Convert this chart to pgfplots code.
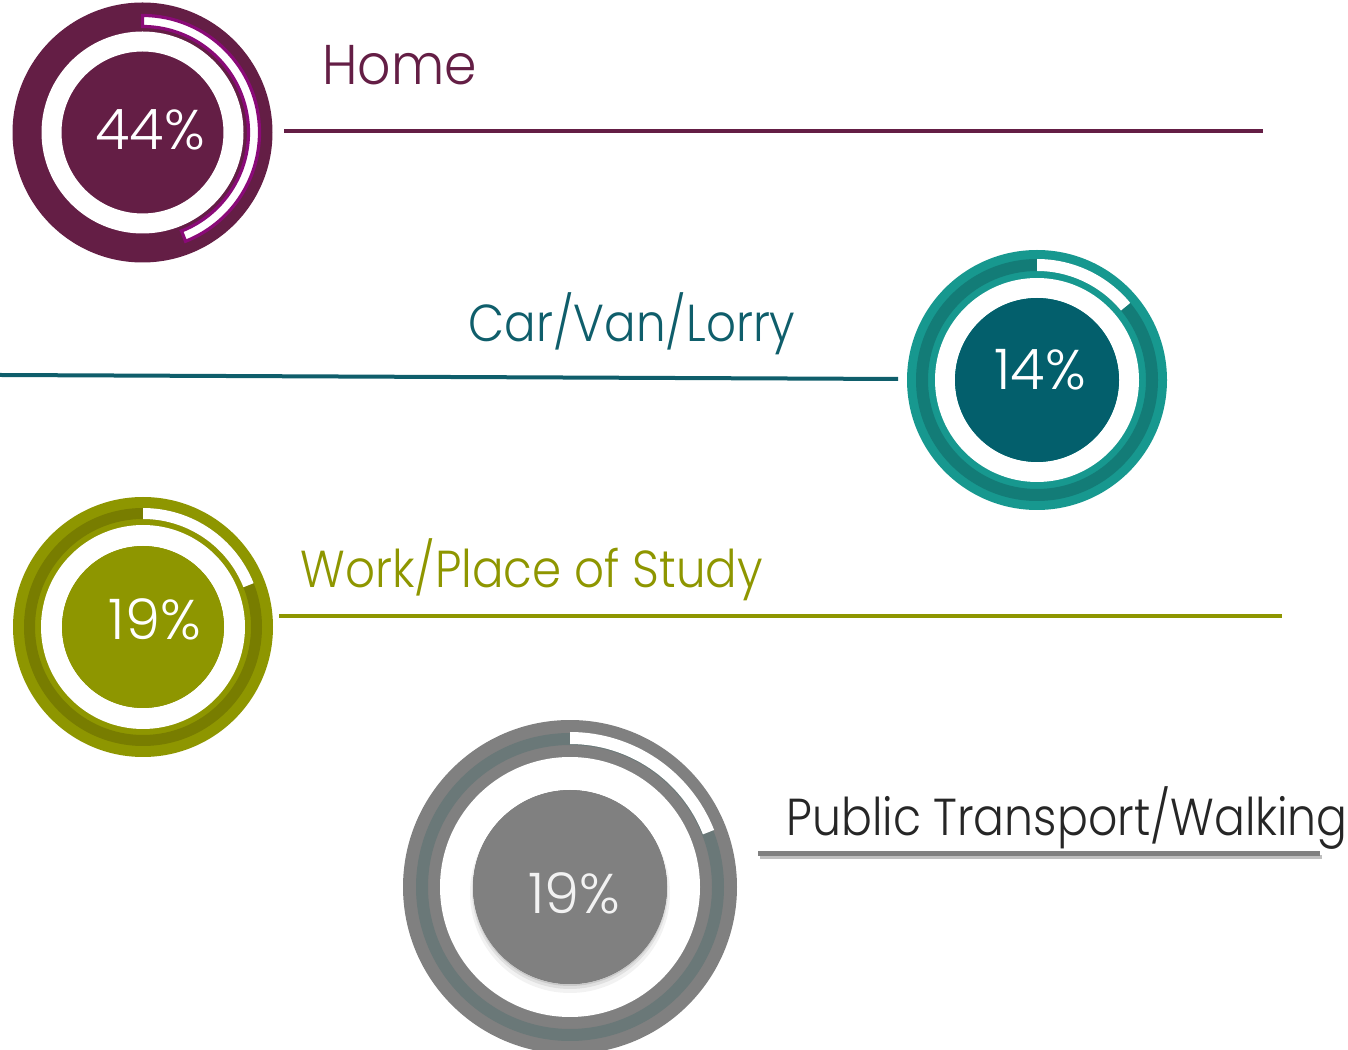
\documentclass[border=0pt]{standalone}
\usepackage{fontspec}
\setmainfont{Poppins}
\IfFontExistsTF{Poppins Light}{\newfontfamily\lightf{Poppins Light}}{\newfontfamily\lightf{Poppins}}
\usepackage{pgfplots}
\pgfplotsset{compat=1.18}

\definecolor{homeD}{HTML}{641E45}
\definecolor{homeM}{HTML}{8A0A78}
\definecolor{carO}{HTML}{17988F}
\definecolor{carB}{HTML}{137C77}
\definecolor{carI}{HTML}{035F6C}
\definecolor{carT}{HTML}{0F5E6B}
\definecolor{workO}{HTML}{8E9600}
\definecolor{workB}{HTML}{787D00}
\definecolor{pubO}{HTML}{808080}
\definecolor{pubB}{HTML}{6A7878}
\definecolor{pubT}{HTML}{262626}

% full circle drawn as an arc (radius in reference px, 1 px = 0.5bp)
\newcommand\rcirc[1]{(0:{#1*0.5bp}) arc[start angle=0, end angle=360, radius={#1*0.5bp}] -- cycle}
\newcommand\rcircat[2]{(270:{-#1*0.5bp}) ++(0:{#2*0.5bp}) arc[start angle=0, end angle=360, radius={#2*0.5bp}] -- cycle}

% #1 cx, #2 cy, #3 R, #4 band out, #5 band in, #6 white out, #7 inner r, #8 pct, #9 colour prefix
\newcommand\donut[9]{%
\begin{scope}[shift={(axis cs:#1,#2)}]
  \fill[#9-O] \rcirc{#3};
  \fill[#9-B, even odd rule] \rcirc{#4} \rcirc{#5};
  \fill[white, even odd rule] \rcirc{#6} \rcirc{#7};
  \fill[#9-I] \rcirc{#7};
  \fill[white] (90:{#4*0.5bp}) arc[start angle=90, end angle={90-3.6*#8}, radius={#4*0.5bp}]
     -- ({90-3.6*#8}:{#5*0.5bp}) arc[start angle={90-3.6*#8}, end angle=90, radius={#5*0.5bp}] -- cycle;
\end{scope}}

\colorlet{car-O}{carO}\colorlet{car-B}{carB}\colorlet{car-I}{carI}
\colorlet{work-O}{workO}\colorlet{work-B}{workB}\colorlet{work-I}{workO}

\begin{document}
\begin{tikzpicture}
\begin{axis}[scale only axis, width=674bp, height=525bp,
  xmin=0, xmax=1348, ymin=-1050, ymax=0, axis lines=none, ticks=none, clip=true]

% connector lines
\addplot[homeD, line width=2bp] coordinates {(284,-131) (1263,-131)};
\addplot[carT, line width=2bp] coordinates {(0,-375) (898,-379)};
\addplot[workO, line width=2bp] coordinates {(279,-616) (1282,-616)};
\addplot[black!25, line width=2bp] coordinates {(760,-857.5) (1322,-857.5)};
\addplot[pubO, line width=2.5bp] coordinates {(758,-854) (1320,-854)};

% Home donut (44%)
\begin{scope}[shift={(axis cs:142.5,-132.5)}]
  \fill[homeD] \rcirc{130};
  \fill[white, even odd rule] \rcirc{101} \rcirc{81};
  \filldraw[fill=white, draw=homeM, line width=1.6bp]
     (90:58.5bp) arc[start angle=90, end angle={90-3.6*44}, radius=58.5bp]
     -- ({90-3.6*44}:53bp) arc[start angle={90-3.6*44}, end angle=90, radius=53bp] -- cycle;
\end{scope}

% Car donut (14%)
\donut{1037}{-380}{130}{121}{109}{102}{82}{14}{car}
% Work donut (19%)
\donut{143}{-627}{130}{119}{108}{102}{81}{19}{work}

% Public donut (19%)
\begin{scope}[shift={(axis cs:570,-887)}]
  \fill[pubO] \rcirc{167};
  \fill[pubB, even odd rule] \rcirc{154} \rcirc{142};
  \fill[white, even odd rule] \rcirc{130} \rcirc{97};
  \fill[black, opacity=0.05] \rcircat{-6}{100};
  \fill[black, opacity=0.07] \rcircat{-4}{98};
  \fill[black, opacity=0.10] \rcircat{-2}{97};
  \fill[pubO] \rcirc{97};
  \fill[white] (90:77.5bp) arc[start angle=90, end angle={90-3.6*19}, radius=77.5bp]
     -- ({90-3.6*19}:71.5bp) arc[start angle={90-3.6*19}, end angle=90, radius=71.5bp] -- cycle;
\end{scope}

% percentages
\node[anchor=base, text=white, font=\lightf\fontsize{28bp}{30bp}\selectfont] at (axis cs:150,-150) {44\%};
\node[anchor=base, text=white, font=\lightf\fontsize{28bp}{30bp}\selectfont] at (axis cs:1040,-390) {14\%};
\node[anchor=base, text=white, font=\lightf\fontsize{28bp}{30bp}\selectfont] at (axis cs:155,-640) {19\%};
\node[anchor=base, text=white!95!black, font=\lightf\fontsize{28bp}{30bp}\selectfont] at (axis cs:574,-914) {19\%};

% labels
\node[anchor=base west, inner sep=0pt, text=homeD, font=\lightf\fontsize{28bp}{30bp}\selectfont] at (axis cs:322,-85) {\scalebox{0.93}[1]{Home}};
\node[anchor=base west, inner sep=0pt, text=carT, font=\lightf\fontsize{26bp}{28bp}\selectfont] at (axis cs:468,-342) {\scalebox{0.9}[1]{Car/Van/Lorry}};
\node[anchor=base west, inner sep=0pt, text=workO, font=\lightf\fontsize{26bp}{28bp}\selectfont] at (axis cs:300,-588) {\scalebox{0.9}[1]{Work/Place of Study}};
\node[anchor=base west, inner sep=0pt, text=pubT, font=\lightf\fontsize{26bp}{28bp}\selectfont] at (axis cs:786,-836) {\scalebox{0.88}[1]{Public Transport/Walking}};
\end{axis}
\pgfresetboundingbox
\path[use as bounding box] (current axis.south west) rectangle (current axis.north east);
\end{tikzpicture}
\end{document}
